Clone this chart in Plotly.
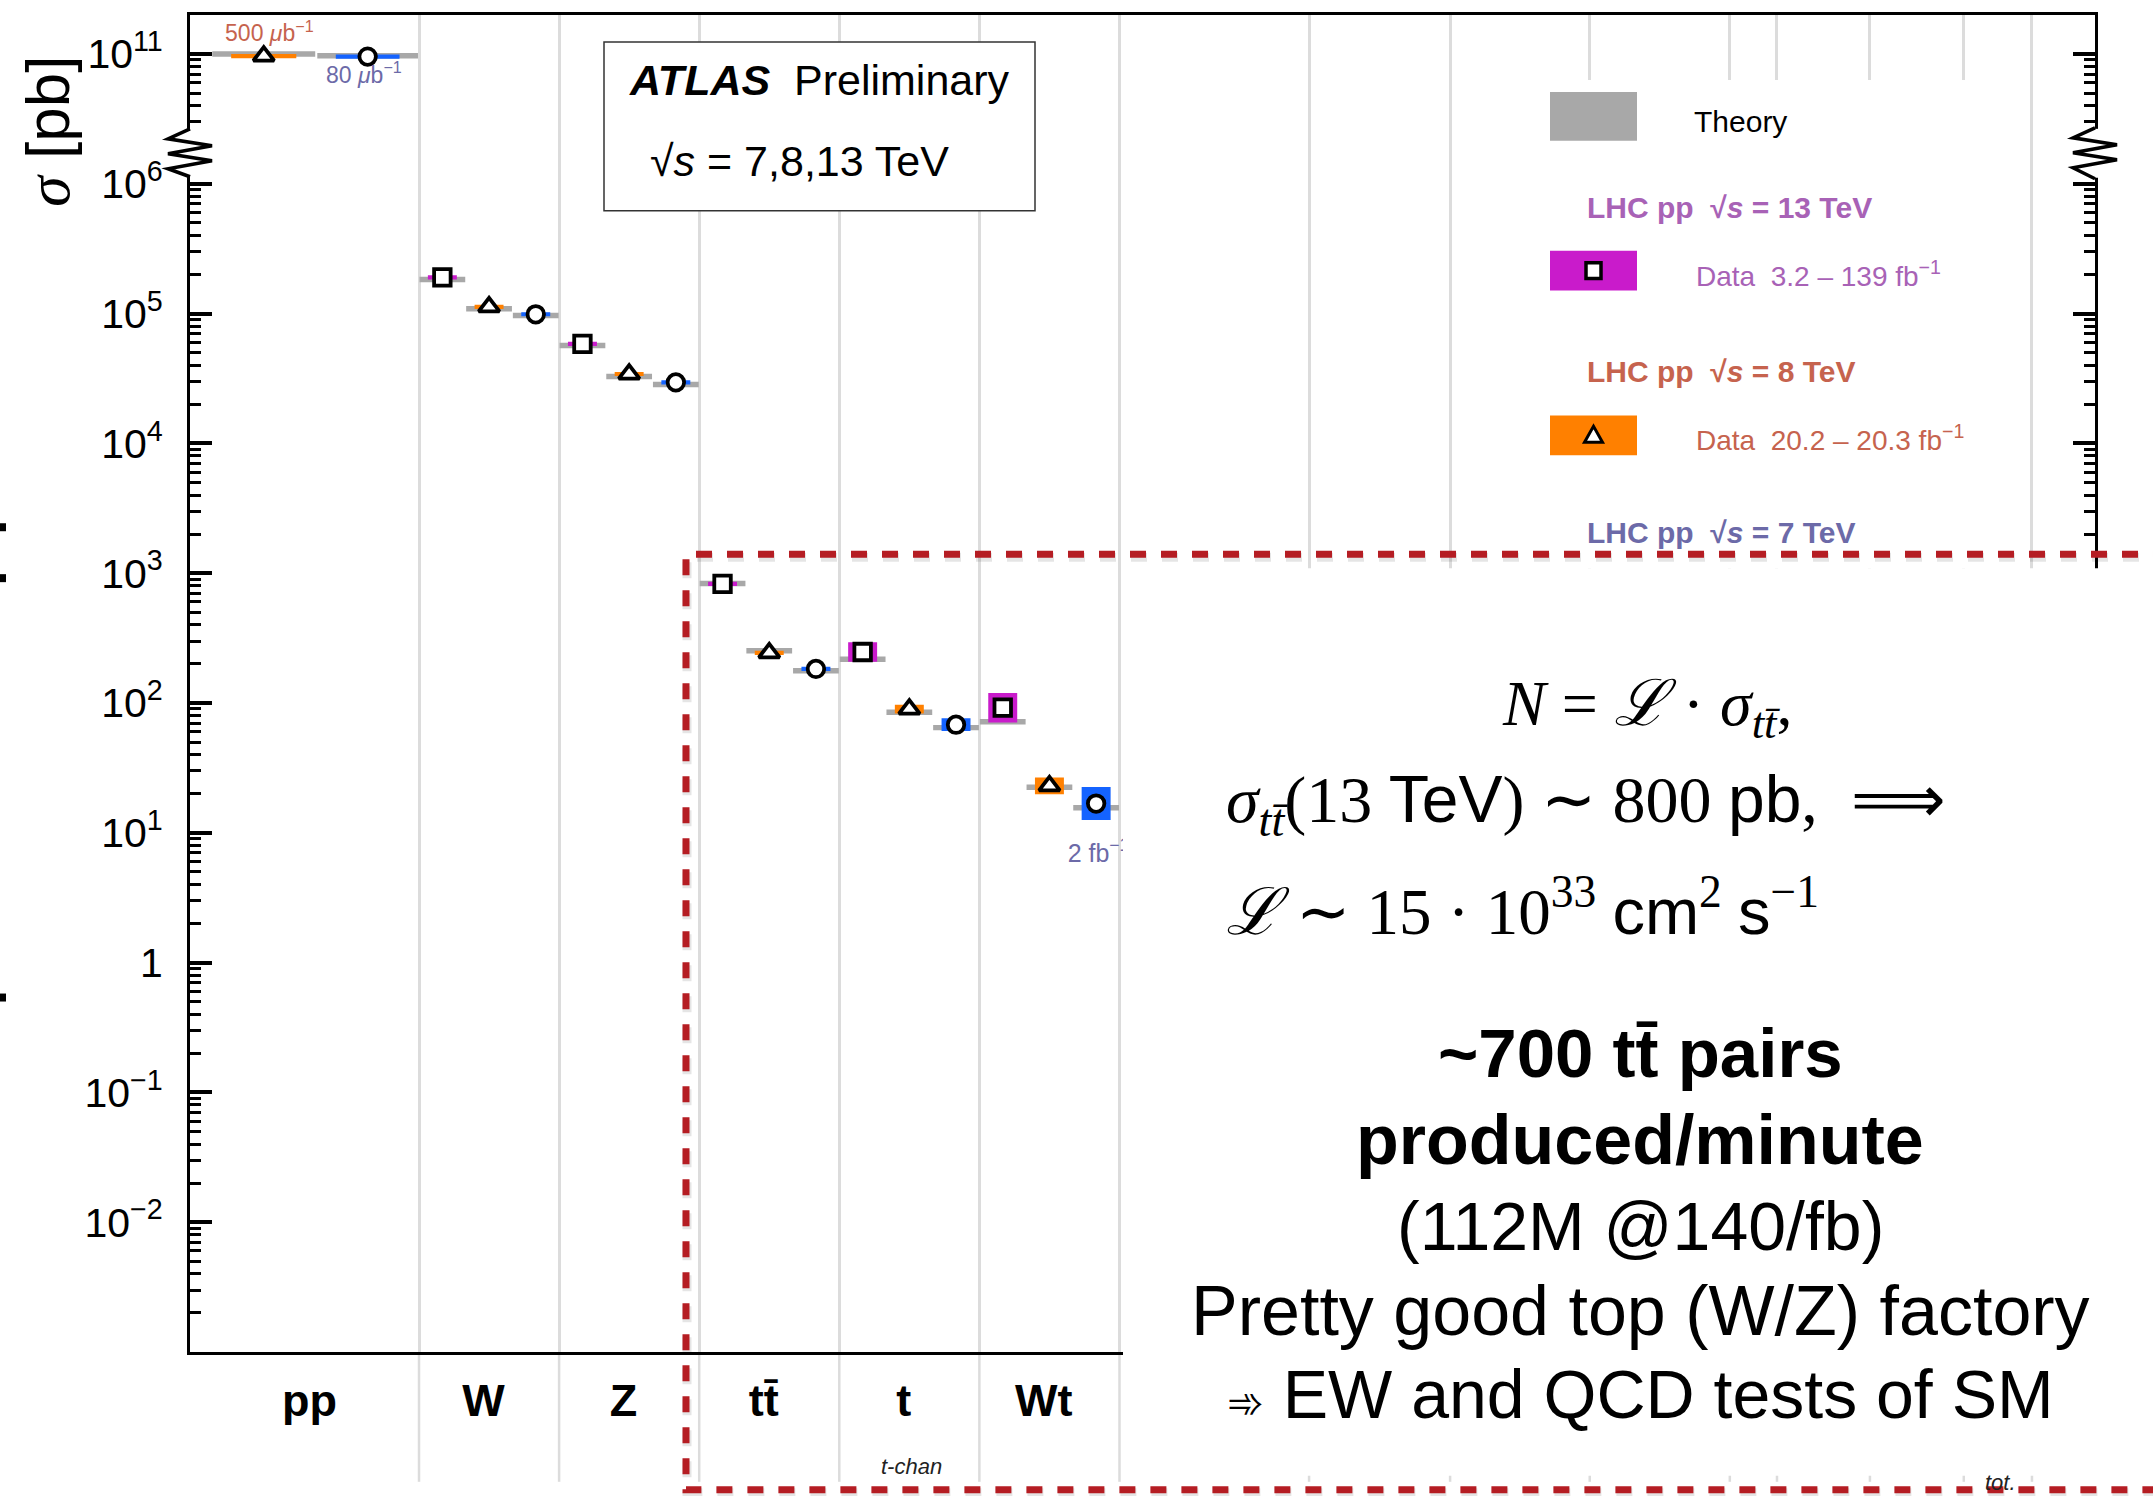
import math
import plotly.graph_objects as go

# ---------------- data ----------------
categories = ["pp", "W", "Z", "tt\u0304", "t", "Wt"]
energies = [13, 8, 7]
# measured cross sections [pb] (None = not shown)
data_13 = [None, 1.90e5, 5.84e4, 826.0, 247.0, 92.0]
data_8 = [9.61e10, 1.127e5, 3.42e4, 243.0, 89.6, 23.0]
data_7 = [9.54e10, 9.87e4, 2.95e4, 182.9, 68.0, 16.8]
# theory predictions [pb]
theory_13 = [None, 1.83e5, 5.68e4, 832.0, 217.0, 71.7]
theory_8 = [1.00e11, 1.09e5, 3.27e4, 252.9, 84.7, 22.4]
theory_7 = [0.97e11, 9.66e4, 2.84e4, 177.3, 64.6, 15.6]
# relative uncertainties
err_13 = [None, 0.025, 0.025, 0.035, 0.19, 0.30]
err_8 = [0.015, 0.025, 0.025, 0.035, 0.08, 0.16]
err_7 = [0.015, 0.025, 0.025, 0.035, 0.12, 0.34]
theory_err = [0.02, 0.04, 0.04, 0.05, 0.04, 0.05]
# boundaries of further (covered) process columns
hidden_boundaries = [19.06, 22.08, 25.07, 28.07, 29.08, 31.07, 33.08, 34.54]
y_major = [7, 6, 5, 4, 3, 2, 1, 0, -1, -2]
y_major_text = ["10<sup>11</sup>", "10<sup>6</sup>", "10<sup>5</sup>", "10<sup>4</sup>",
                "10<sup>3</sup>", "10<sup>2</sup>", "10<sup>1</sup>", "1",
                "10<sup>\u22121</sup>", "10<sup>\u22122</sup>"]

# ---------------- layout constants ----------------
W_PX, H_PX = 2153, 1496
L, R, T, B = 190, 2095, 13, 1352
BREAK_SHIFT = 4  # decades removed by the axis break
X_RANGE = [-4.904, 35.89]
Y_RANGE = [-3.0, 7.3]
PP_EDGES = [-4.45, -2.2, 0.0]

COL = {13: "#c91bcb", 8: "#ff8000", 7: "#1463ff"}
TXT = {13: "#a862b6", 8: "#c6634e", 7: "#6c6aa8"}
SYM = {13: "square", 8: "triangle-up", 7: "circle"}
GRAY = "#a8a8a8"
RED = "#b51d23"
SANS = "Liberation Sans, Arial, sans-serif"
NARROW = "Liberation Sans Narrow, Liberation Sans, Arial, sans-serif"
SERIF = "Liberation Serif, Times New Roman, serif"


def px(x):
    return (x - L) / (R - L)


def py(y):
    return (B - y) / (B - T)


def to_axis(v):
    d = math.log10(v)
    return d - BREAK_SHIFT if d > 8 else d


def bin_of(ci, e):
    if ci == 0:
        j = {8: 0, 7: 1}[e]
        return PP_EDGES[j], PP_EDGES[j + 1]
    j = energies.index(e)
    x0 = 3 * (ci - 1) + j
    return x0, x0 + 1


data = {13: data_13, 8: data_8, 7: data_7}
theory = {13: theory_13, 8: theory_8, 7: theory_7}
errs = {13: err_13, 8: err_8, 7: err_7}

fig = go.Figure()

# theory bands (gray)
tx, ty = [], []
for e in energies:
    for ci, v in enumerate(theory[e]):
        if v is None:
            continue
        a, b = bin_of(ci, e)
        w = b - a
        c = (a + b) / 2
        d = to_axis(v)
        h = max(math.log10(1 + theory_err[ci]), 0.021)
        tx += [c - 0.49 * w, c + 0.49 * w, c + 0.49 * w, c - 0.49 * w, c - 0.49 * w, None]
        ty += [d - h, d - h, d + h, d + h, d - h, None]
fig.add_trace(go.Scatter(x=tx, y=ty, fill="toself", fillcolor=GRAY, mode="lines",
                         line=dict(width=0, color=GRAY), hoverinfo="skip", showlegend=False))

# data uncertainty boxes
for e in energies:
    bx, by = [], []
    for ci, v in enumerate(data[e]):
        if v is None:
            continue
        a, b = bin_of(ci, e)
        w = b - a
        c = (a + b) / 2
        d = to_axis(v)
        h = max(math.log10(1 + errs[e][ci]), 0.016)
        bx += [c - 0.31 * w, c + 0.31 * w, c + 0.31 * w, c - 0.31 * w, c - 0.31 * w, None]
        by += [d - h, d - h, d + h, d + h, d - h, None]
    fig.add_trace(go.Scatter(x=bx, y=by, fill="toself", fillcolor=COL[e], mode="lines",
                             line=dict(width=0, color=COL[e]), hoverinfo="skip",
                             showlegend=False))

# markers
for e in energies:
    mx, my = [], []
    for ci, v in enumerate(data[e]):
        if v is None:
            continue
        a, b = bin_of(ci, e)
        mx.append((a + b) / 2)
        my.append(to_axis(v))
    fig.add_trace(go.Scatter(x=mx, y=my, mode="markers", hoverinfo="skip", showlegend=False,
                             marker=dict(symbol=SYM[e], size=18 if e == 8 else 16.5,
                                         color="white", line=dict(color="black", width=3.8))))

# luminosity labels next to points
lumi_labels = [(0, 8, "500 <i>\u03bc</i>b<sup>\u22121</sup>", 0.12, 0.16, 23),
               (0, 7, "80 <i>\u03bc</i>b<sup>\u22121</sup>", -0.08, -0.156, 23),
               (5, 7, "2 fb<sup>\u22121</sup>", 0.05, -0.40, 25)]
for ci, e, txt, dx, dy, fs in lumi_labels:
    a, b = bin_of(ci, e)
    fig.add_trace(go.Scatter(x=[(a + b) / 2 + dx], y=[to_axis(data[e][ci]) + dy], mode="text",
                             text=[txt], textposition="middle center", hoverinfo="skip",
                             showlegend=False, textfont=dict(family=SANS, size=fs, color=TXT[e])))

# ---------------- axes ----------------
cat_edges = [0, 3, 6, 9, 12, 15]
cat_centers = [(PP_EDGES[0] + PP_EDGES[-1]) / 2] + [3 * i + 1.5 for i in range(5)]
label_pos = [c - 0.12 for c in cat_centers]

minor_y = []
for n in range(-3, 6):
    for k in range(2, 10):
        minor_y.append(n + math.log10(k))
for k in range(3, 10):
    minor_y.append(6 + math.log10(k))

fig.update_xaxes(range=X_RANGE, showline=True, linecolor="black", linewidth=3, mirror=True,
                 tickmode="array", tickvals=label_pos,
                 ticktext=["<b>%s</b>" % c for c in categories], ticks="", showgrid=False,
                 zeroline=False, tickfont=dict(family=SANS, size=45, color="black"),
                 ticklabelstandoff=7,
                 minor=dict(tickvals=cat_edges + hidden_boundaries, showgrid=True,
                            gridcolor="#dcdcdc", gridwidth=2.5, ticks=""))
fig.update_yaxes(range=Y_RANGE, showline=True, linecolor="black", linewidth=3, mirror="ticks",
                 tickmode="array", tickvals=y_major, ticktext=y_major_text, ticks="inside",
                 ticklen=22, tickwidth=3.5, tickcolor="black", showgrid=False, zeroline=False,
                 tickfont=dict(family=NARROW, size=41, color="black"), ticklabelstandoff=16,
                 minor=dict(tickvals=minor_y, ticks="inside", ticklen=11, tickwidth=3,
                            tickcolor="black", showgrid=False))

shapes = []
ann = []

# gridline tails below the axis
for xb in cat_edges + hidden_boundaries:
    shapes.append(dict(type="line", xref="x", yref="paper", x0=xb, x1=xb, y0=0, y1=py(1482),
                       line=dict(color="#dcdcdc", width=2.5), layer="below"))

# axis breaks
for xa, y0, y1 in [(190, 127, 175), (2095, 126, 177)]:
    shapes.append(dict(type="rect", xref="paper", yref="paper", x0=px(xa - 5), x1=px(xa + 5),
                       y0=py(y1 - 1), y1=py(y0 + 1), fillcolor="white", line=dict(width=0)))
    pts = [(xa, y0), (xa - 22, y0 + 10), (xa + 22, y0 + 17), (xa - 22, y0 + 25),
           (xa + 22, y0 + 32), (xa - 22, y0 + 40), (xa, y1)]
    path = "M " + " L ".join("%f,%f" % (px(a), py(b)) for a, b in pts)
    shapes.append(dict(type="path", xref="paper", yref="paper", path=path,
                       line=dict(color="black", width=3.5)))

# ATLAS box
shapes.append(dict(type="rect", xref="paper", yref="paper", x0=px(604), x1=px(1035),
                   y0=py(209), y1=py(40), fillcolor="white", line=dict(color="#333333", width=1.5)))
ann.append(dict(x=px(627), y=py(78), text="<b><i>ATLAS</i></b>\u00a0\u00a0Preliminary",
                xanchor="left", font=dict(family=SANS, size=43, color="black")))
ann.append(dict(x=px(648), y=py(159), text="\u221a<i>s</i> = 7,8,13 TeV",
                xanchor="left", font=dict(family=SANS, size=43, color="black")))

# legend area
shapes.append(dict(type="rect", xref="paper", yref="paper", x0=px(1457), x1=px(2026),
                   y0=py(567), y1=py(78), fillcolor="white", line=dict(width=0)))
shapes.append(dict(type="rect", xref="paper", yref="paper", x0=px(1550), x1=px(1637),
                   y0=py(139), y1=py(90), fillcolor=GRAY, line=dict(width=0)))
ann.append(dict(x=px(1692), y=py(120), text="Theory", xanchor="left",
                font=dict(family=SANS, size=30, color="black")))
for e, ty_title, ty_box, lumi in [(13, 206, 269, "3.2 \u2013 139"), (8, 370, 434, "20.2 \u2013 20.3"),
                                  (7, 531, None, None)]:
    ann.append(dict(x=px(1585), y=py(ty_title), xanchor="left",
                    text="<b>LHC pp\u00a0\u00a0\u221a<i>s</i> = %d TeV</b>" % e,
                    font=dict(family=SANS, size=30, color=TXT[e])))
    if ty_box is None:
        continue
    shapes.append(dict(type="rect", xref="paper", yref="paper", x0=px(1550), x1=px(1637),
                       y0=py(ty_box + 20), y1=py(ty_box - 20), fillcolor=COL[e], line=dict(width=0)))
    ann.append(dict(x=px(1694), y=py(ty_box + 3), xanchor="left",
                    text="Data\u00a0\u00a0%s fb<sup>\u22121</sup>" % lumi,
                    font=dict(family=SANS, size=28, color=TXT[e])))
    if e == 13:
        shapes.append(dict(type="rect", xref="paper", yref="paper", x0=px(1586), x1=px(1601),
                           y0=py(ty_box + 8), y1=py(ty_box - 8), fillcolor="white",
                           line=dict(color="black", width=3.5)))
    else:
        tri = [(1584.5, ty_box + 7), (1602.5, ty_box + 7), (1593.5, ty_box - 9)]
        path = "M " + " L ".join("%f,%f" % (px(a), py(b)) for a, b in tri) + " Z"
        shapes.append(dict(type="path", xref="paper", yref="paper", path=path,
                           fillcolor="white", line=dict(color="black", width=3)))

# slide overlay: white panel and red dashed frame
shapes.append(dict(type="rect", xref="paper", yref="paper", x0=px(1123), x1=px(2200),
                   y0=py(1476), y1=py(567), fillcolor="white", line=dict(width=0)))
frame = [(2200, 553), (686, 553), (686, 1490), (2200, 1490)]
shadow = "M " + " L ".join("%f,%f" % (px(a + 1), py(b + 3)) for a, b in frame)
shapes.append(dict(type="path", xref="paper", yref="paper", path=shadow,
                   line=dict(color="rgba(0,0,0,0.10)", width=9, dash="16px,15px")))
path = "M " + " L ".join("%f,%f" % (px(a), py(b)) for a, b in frame)
shapes.append(dict(type="path", xref="paper", yref="paper", path=path,
                   line=dict(color=RED, width=7, dash="16px,15px")))

# left-edge slide marks
for yy in [526, 577, 997]:
    shapes.append(dict(type="rect", xref="paper", yref="paper", x0=px(0), x1=px(6),
                       y0=py(yy + 4), y1=py(yy - 4), fillcolor="black", line=dict(width=0)))

# y-axis title
ann.append(dict(x=px(48), y=py(110), textangle=-90, xanchor="center", yanchor="middle",
                yshift=-20,
                text="<span style=\"font-family:Liberation Serif\"><i>\u03c3</i></span> [pb]",
                font=dict(family=SANS, size=62, color="black")))
# sub-labels
ann.append(dict(x=label_pos[4] + 0.16, xref="x", y=py(1467), text="<i>t-chan</i>",
                xanchor="center", font=dict(family=SANS, size=22, color="#222222")))
ann.append(dict(x=px(2000), y=py(1483), text="<i>tot.</i>", xanchor="center",
                font=dict(family=SANS, size=22, color="#222222")))

# overlay text
SP = "<span style=\"font-family:Liberation Sans\">%s</span>"
sig = "<i>\u03c3</i><sub><i>tt\u0304</i></sub>"
ann.append(dict(x=px(1647), y=py(707), xanchor="center",
                text="<i>N</i> = <i>\u2112</i> \u00b7 " + sig + ",",
                font=dict(family=SERIF, size=64, color="black")))
ann.append(dict(x=px(1224), y=py(803), xanchor="left",
                text=sig + "(13 " + SP % "TeV" + ") \u223c 800 " + SP % "pb" + ",\u00a0\u00a0\u27f9",
                font=dict(family=SERIF, size=66, color="black")))
ann.append(dict(x=px(1224), y=py(906), xanchor="left",
                text="<i>\u2112</i> \u223c 15 \u00b7 10<sup>33</sup> " + SP % "cm" + "<sup>2</sup> "
                     + SP % "s" + "<sup>\u22121</sup>",
                font=dict(family=SERIF, size=65, color="black")))
ARROW = "<span style=\"font-family:DejaVu Sans;font-size:44px\">\u27be</span>"
lines = [("<b>~700 tt\u0304 pairs</b>", 1053, 69), ("<b>produced/minute</b>", 1140, 70),
         ("(112M @140/fb)", 1226, 68), ("Pretty good top (W/Z) factory", 1311, 70),
         (ARROW + " EW and QCD tests of SM", 1394, 68)]
for txt, yy, fs in lines:
    ann.append(dict(x=px(1640), y=py(yy), xanchor="center", text=txt,
                    font=dict(family=SANS, size=fs, color="black")))

for a in ann:
    a.setdefault("xref", "paper")
    a.setdefault("yref", "paper")
    a.setdefault("yanchor", "middle")
    a.setdefault("showarrow", False)

fig.update_layout(width=W_PX, height=H_PX, margin=dict(l=L, r=W_PX - R, t=T, b=H_PX - B),
                  paper_bgcolor="white", plot_bgcolor="white", shapes=shapes, annotations=ann,
                  showlegend=False)

fig.write_html("out.html")
